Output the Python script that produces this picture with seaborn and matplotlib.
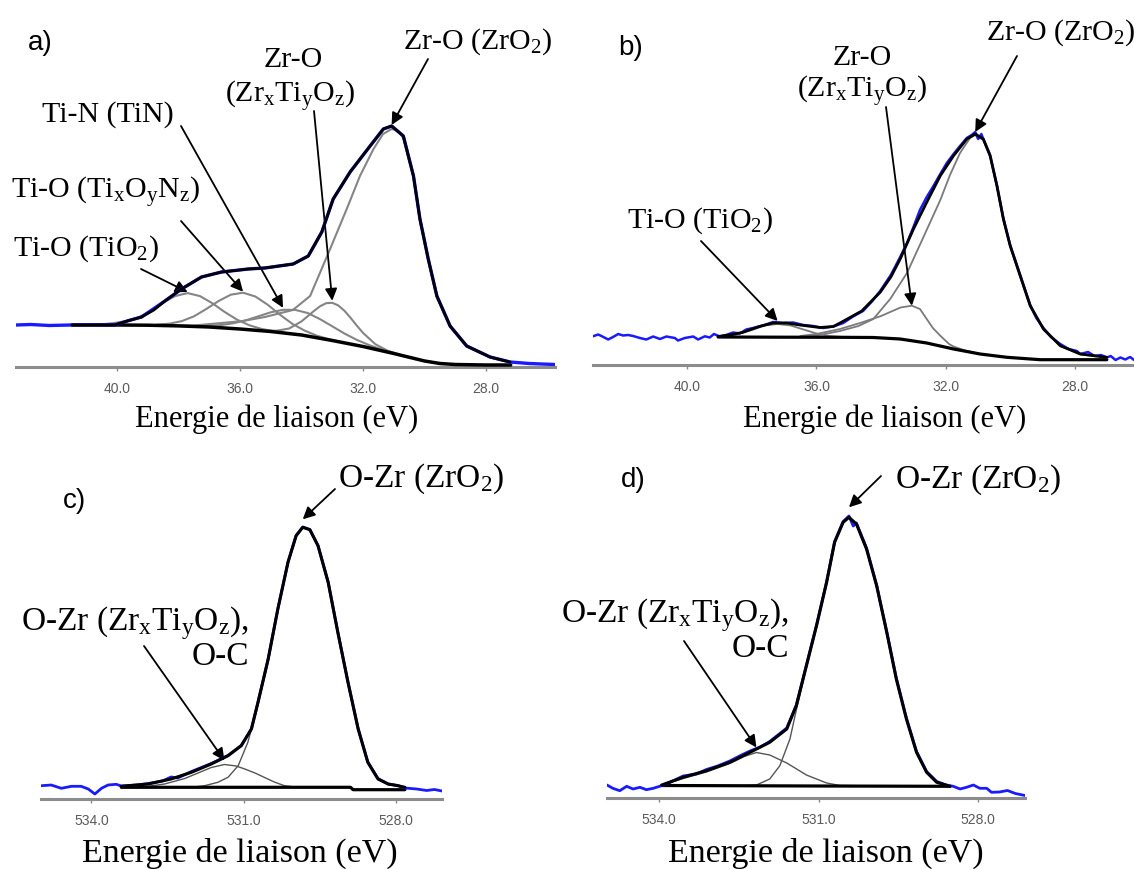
import numpy as np
import matplotlib
matplotlib.use("Agg")
import matplotlib.pyplot as plt
import seaborn as sns

# panel a : Zr 4p / Ti 3p region (eV, a.u.)
a_raw_e = [43.28, 42.8, 42.2, 41.5, 40.8, 40.07, 39.63, 39.20, 38.44, 37.90, 37.25, 36.60, 35.73, 35.19, 34.27,
           33.78, 33.34, 32.97, 32.42, 31.77, 31.34, 31.07, 30.69, 30.36, 30.15, 29.88, 29.60, 29.17, 28.63, 27.87,
           27.22, 26.6, 26.2, 25.76]
a_raw_i = [42, 42.5, 41.5, 42, 42.3, 42, 46.3, 50, 66, 78, 90, 95, 98, 99, 103,
           111, 135, 168, 195, 221, 238, 241, 231, 191, 148, 108, 71, 41, 21, 10,
           5, 3.5, 3, 2.5]
a_fit_e = [41.46, 40.6, 40.07, 39.63, 39.20, 38.80, 38.44, 37.90, 37.25, 36.60, 35.73, 35.19, 34.27, 33.78, 33.34,
           32.97, 32.42, 31.77, 31.34, 31.07, 30.69, 30.36, 30.15, 29.88, 29.60, 29.17, 28.63, 27.87, 27.22]
a_fit_i = [42, 42, 42, 46.3, 50, 57, 66, 78, 90, 95, 98, 99, 103, 111, 135,
           168, 195, 221, 238, 241, 231, 191, 148, 108, 71, 41, 21, 10, 5]
a_bg_e = [41.46, 40.0, 39.0, 38.0, 37.0, 36.0, 35.0, 34.0, 33.0, 32.0, 31.0, 30.0, 29.5, 29.0, 28.0, 27.2]
a_bg_i = [42, 42, 41.8, 41.1, 40.0, 38.0, 35.5, 32.0, 26.5, 20.5, 13.5, 6.0, 3.5, 2.5, 2.0, 2.0]
a_tio2_e = [40.9, 40.5, 40.1, 39.7, 39.3, 38.9, 38.5, 38.1, 37.7, 37.3, 36.9, 36.5, 36.1, 35.7, 35.3, 34.9, 34.5]
a_tio2_i = [42.2, 42.7, 43.9, 46.0, 49.5, 56.0, 64.5, 71.0, 73.9, 70.9, 63.8, 55.1, 47.4, 41.8, 38.1, 35.8, 34.0]
a_tion_e = [38.7, 38.3, 37.9, 37.5, 37.1, 36.7, 36.3, 35.9, 35.5, 35.1, 34.7, 34.3, 33.9, 33.5, 33.1, 32.7]
a_tion_i = [42.3, 43.3, 45.8, 50.6, 57.9, 65.9, 72.3, 74.3, 70.5, 62.3, 52.3, 43.2, 36.4, 31.3, 27.8, 24.9]
a_tin_e = [37.4, 37.0, 36.6, 36.2, 35.8, 35.4, 35.0, 34.6, 34.2, 33.8, 33.4, 33.0, 32.6, 32.2, 31.8, 31.4, 31.0]
a_tin_i = [41.0, 41.3, 42.0, 43.8, 46.8, 50.7, 54.7, 57.2, 57.1, 54.0, 47.9, 40.7, 33.4, 27.1, 21.9, 17.6, 14.0]
a_zrtio_e = [35.2, 34.8, 34.4, 34.0, 33.6, 33.4, 33.2, 33.0, 32.8, 32.6, 32.4, 32.2, 32.0, 31.6, 31.2, 30.8]
a_zrtio_i = [36.3, 36.3, 38.5, 45.6, 55.9, 60.7, 63.8, 64.2, 61.5, 56.1, 49.0, 41.3, 34.1, 22.8, 16.3, 12.3]
a_zro2_e = [38.5, 37.5, 36.6, 35.9, 35.19, 34.28, 33.72, 33.07, 32.53, 32.1, 31.66, 31.35, 31.07, 30.85, 30.69,
            30.36, 30.15, 29.88, 29.60, 29.17, 28.63, 27.87, 27.22]
a_zro2_i = [41.8, 41.5, 44, 46, 50, 57, 71, 118, 158, 191, 218, 233, 238, 236, 229,
            190, 147, 107, 70, 40.5, 20.5, 9.5, 4.5]

# panel b
b_raw_e = [42.91, 42.75, 42.65, 42.44, 42.29, 42.13, 41.98, 41.82, 41.67, 41.46, 41.26, 41.05, 40.84, 40.64, 40.38,
           40.28, 40.07, 39.81, 39.66, 39.45, 39.30, 39.17, 38.99, 38.79, 38.58, 38.37, 38.17, 37.96, 37.65, 37.34,
           37.03, 36.72, 36.41, 36.10, 35.79, 35.48, 35.17, 34.87, 34.56, 34.3, 34.03, 33.7, 33.41, 33.2, 33.0,
           32.8, 32.59, 32.4, 32.17, 31.97, 31.76, 31.56, 31.35, 31.2, 31.09, 31.0, 30.9, 30.84, 30.63, 30.42,
           30.22, 30.01, 29.70, 29.39, 29.2, 28.98, 28.75, 28.46, 28.2, 27.95, 27.84, 27.6, 27.4, 27.2, 27.02,
           26.9, 26.75, 26.6, 26.45, 26.3, 26.18]
b_raw_i = [28.7, 30.5, 29.0, 25.5, 28.0, 31.0, 29.5, 30.0, 29.0, 27.0, 25.5, 28.5, 26.0, 28.5, 27.0,
           24.5, 27.0, 28.5, 25.5, 28.7, 27.5, 31.0, 28.5, 30.0, 32.5, 31.5, 35.5, 37.0, 39.5, 43.0,
           42.0, 42.5, 40.0, 39.0, 37.0, 38.5, 42.0, 48.5, 54.0, 63, 74, 90, 108, 122, 138,
           155, 168, 178, 191, 202, 211, 219, 227, 230, 233, 226, 231, 226, 210, 180,
           147, 120, 90, 60, 47, 37, 28, 21, 16, 14, 11, 13, 9, 10, 7.5,
           9, 5, 7.5, 5.5, 8, 5]
b_fit_e = [39.04, 38.6, 38.27, 37.75, 37.34, 36.93, 36.51, 35.9, 35.48, 35.27, 34.6, 34.03, 33.7, 33.41, 33.0,
           32.59, 32.17, 31.76, 31.35, 31.09, 30.84, 30.63, 30.42, 30.22, 30.01, 29.70, 29.39, 28.98, 28.46, 27.84,
           27.02]
b_fit_i = [28.5, 30.5, 32.7, 38.7, 42, 42, 40, 37.5, 38.5, 42, 54, 72.7, 88, 106, 136,
           162.7, 189.3, 209.3, 226, 231, 226, 209.3, 179.3, 146, 119.3, 89.3, 59.3, 36, 19.3, 11,
           7.7]
b_bg_e = [39.04, 37.0, 35.27, 34.24, 33.41, 32.59, 31.76, 30.94, 30.11, 29.08, 27.02]
b_bg_i = [28, 27.8, 27.7, 27.5, 26, 22, 16, 11, 7.7, 5.3, 5.3]
b_tio2_e = [39.0, 38.5, 38.0, 37.6, 37.2, 36.8, 36.4, 36.0, 35.6, 35.2, 34.8]
b_tio2_i = [28.5, 30.5, 35, 39.5, 41, 39.5, 35.5, 31.5, 29, 28, 27.7]
b_zrtio_e = [36.5, 36.0, 35.27, 34.65, 34.0, 33.72, 33.4, 33.05, 32.8, 32.59, 32.4, 32.17, 31.9, 31.76, 31.4, 31.0]
b_zrtio_i = [29, 31, 36, 42, 49, 53, 57.5, 59.3, 56, 46, 37, 29.3, 21, 18.5, 14.5, 11.5]
b_zro2_e = [36.5, 35.9, 35.27, 34.7, 34.24, 33.72, 33.2, 32.69, 32.17, 31.87, 31.56, 31.25, 31.09, 30.84, 30.63,
            30.42, 30.22, 30.01, 29.70, 29.39, 28.98, 28.46, 27.84, 27.02]
b_zro2_i = [28, 30, 34, 39, 46, 66, 92, 128, 165, 190, 212, 227, 230, 225, 208.5,
            178.5, 145, 118.5, 88.5, 58.5, 35.5, 19, 10.5, 7.5]

# panel c : O 1s
c_raw_e = [534.98, 534.79, 534.59, 534.39, 534.2, 534.06, 533.93, 533.8, 533.67, 533.51, 533.41, 533.1, 532.88, 532.6,
           532.43, 532.3, 532.03, 531.64, 531.31, 531.05, 530.85, 530.72, 530.52, 530.33, 530.13, 529.97, 529.84,
           529.70, 529.54, 529.34, 529.15, 528.95, 528.75, 528.56, 528.36, 528.16, 527.97, 527.83, 527.6, 527.4,
           527.25, 527.1]
c_raw_i = [13.3, 14, 10.7, 12.7, 12.7, 10, 5, 10.7, 14, 14.7, 13, 14, 15.5, 18,
           22, 21, 27.5, 35.5, 43.5, 53.5, 70, 97, 140, 190, 237, 263.5, 272,
           269.5, 253.5, 217, 167, 117, 70.5, 37, 20.5, 15, 13.5, 11, 10, 8.5,
           9.5, 8]
c_fit_e = [533.41, 532.88, 532.43, 532.03, 531.64, 531.31, 531.05, 530.85, 530.72, 530.52, 530.33, 530.13, 529.97,
           529.84, 529.70, 529.54, 529.34, 529.15, 528.95, 528.75, 528.56, 528.36, 528.16, 527.97, 527.83]
c_fit_i = [12.7, 15, 20, 26.7, 35, 43.3, 53.3, 70, 96.7, 140, 190, 236.7, 263.3,
           271.7, 269.3, 253.3, 216.7, 166.7, 116.7, 70, 36.7, 20, 15, 13.3, 11.7]
c_bg_e = [533.41, 528.9, 528.85, 527.83]
c_bg_i = [11.7, 11.7, 9.3, 9.3]
c_zro2_e = [532.4, 532.2, 531.97, 531.77, 531.51, 531.31, 531.11, 530.92, 530.75, 530.52, 530.33, 530.13, 529.97,
            529.84, 529.70, 529.54, 529.34, 529.15, 528.95, 528.75, 528.56, 528.36, 528.16, 527.97, 527.83]
c_zro2_i = [11.7, 11.8, 12, 13.3, 16.7, 21.7, 33.3, 56.7, 89, 138, 189, 236, 263,
            271.5, 269, 253, 216.5, 166.5, 116.5, 70, 36.5, 20, 15, 13, 11.7]
c_oc_e = [533.2, 532.88, 532.56, 532.16, 531.9, 531.64, 531.38, 531.15, 530.98, 530.78, 530.59, 530.4, 530.2, 530.0, 529.7]
c_oc_i = [11.7, 12.7, 15, 20.5, 26, 31.5, 34.5, 33, 30, 26, 21.5, 17, 13.3, 12, 11.7]

# panel d : O 1s
d_raw_e = [534.98, 534.87, 534.74, 534.61, 534.49, 534.36, 534.24, 534.11, 533.99, 533.8, 533.55, 533.3, 533.11, 532.9,
           532.67, 532.45, 532.29, 532.1, 531.92, 531.60, 531.42, 531.23, 531.04, 530.85, 530.70, 530.54, 530.43,
           530.35, 530.29, 530.10, 529.91, 529.72, 529.54, 529.35, 529.16, 528.97, 528.78, 528.6, 528.47, 528.34,
           528.22, 528.09, 527.97, 527.84, 527.75, 527.6, 527.45, 527.3, 527.12]
d_raw_i = [13, 9.7, 7.3, 11.7, 9, 10.7, 8.3, 9.7, 11.7, 15.5, 22, 24, 28.5, 32,
           37, 43, 47, 51, 56.5, 70, 93, 133, 173, 216.5, 256.5, 276.5, 282,
           272, 275, 250, 213, 166.5, 120, 80, 46.5, 26.5, 16.5, 13, 11.7, 9,
           10.7, 13, 9.7, 9.7, 5.7, 6, 7.5, 4.5, 2.5]
d_fit_e = [533.95, 533.55, 533.11, 532.67, 532.29, 531.92, 531.60, 531.42, 531.23, 531.04, 530.85, 530.70, 530.54,
           530.43, 530.29, 530.10, 529.91, 529.72, 529.54, 529.35, 529.16, 528.97, 528.78, 528.53]
d_fit_i = [13, 20.7, 27.3, 35.7, 45.7, 55.7, 69, 92.3, 132.3, 172.3, 215.7, 255.7, 275.7,
           280.7, 274, 249, 212.3, 165.7, 119, 79, 45.7, 25.7, 15.7, 11.7]
d_bg_e = [533.95, 531.0, 528.53]
d_bg_i = [12.5, 12.0, 11.7]
d_zro2_e = [532.4, 532.17, 531.92, 531.73, 531.54, 531.42, 531.23, 531.04, 530.85, 530.70, 530.54, 530.43, 530.29,
            530.10, 529.91, 529.72, 529.54, 529.35, 529.16, 528.97, 528.78, 528.53]
d_zro2_i = [12.3, 13, 19, 32.3, 59, 88, 131, 171.5, 215, 255, 275, 280, 273.5,
            248.5, 212, 165.5, 118.5, 78.5, 45.5, 25.5, 15.5, 11.7]
d_oc_e = [533.95, 533.55, 533.11, 532.67, 532.4, 532.17, 531.92, 531.6, 531.23, 530.85, 530.6, 530.3]
d_oc_i = [12.8, 19.5, 26, 34.5, 41.5, 45.5, 43, 35, 23, 15, 12.5, 12.3]

ticks_zr = [40, 36, 32, 28]
ticks_o = [534, 531, 528]
xlabel = "Energie de liaison (eV)"
zrtio = r"(Zr$_\mathrm{x}$Ti$_\mathrm{y}$O$_\mathrm{z}$)"

W, H = 1134, 870
BLUE = "#1a1aff"

sns.set_theme(style="white")
plt.rcParams["font.family"] = ["Liberation Serif", "DejaVu Serif"]
plt.rcParams["mathtext.fontset"] = "custom"
plt.rcParams["mathtext.rm"] = "Liberation Serif"
plt.rcParams["mathtext.it"] = "Liberation Serif:italic"

fig = plt.figure(figsize=(W / 100, H / 100), dpi=100)
fig.patch.set_facecolor("white")


def fpos(x, y):
    return (x / W, 1 - y / H)


def panel(x0, x1, y_axis, y_top, xlim, ticks, fmt):
    ax = fig.add_axes([x0 / W, 1 - y_axis / H, (x1 - x0) / W, (y_axis - y_top) / H])
    ax.set_facecolor("none")
    ax.set_xlim(*xlim)
    ax.set_ylim(0, y_axis - y_top)
    for s in ["left", "right", "top"]:
        ax.spines[s].set_visible(False)
    ax.spines["bottom"].set_color("#8c8c8c")
    ax.spines["bottom"].set_linewidth(2.2)
    ax.set_yticks([])
    ax.set_xticks(ticks)
    ax.set_xticklabels([fmt.format(t) for t in ticks], family="Liberation Sans")
    ax.tick_params(axis="x", bottom=True, direction="out", length=3, width=1, color="#888888",
                   labelsize=10, labelcolor="#5a5a5a", pad=7)
    ax.grid(False)
    return ax


def draw(ax, e, i, color, lw, z):
    sns.lineplot(x=e, y=i, ax=ax, color=color, linewidth=lw, sort=False, estimator=None, zorder=z)


def arrow(ax, tip, tail):
    ax.annotate("", xy=tip, xycoords="data", xytext=fpos(*tail), textcoords="figure fraction",
                annotation_clip=False,
                arrowprops=dict(arrowstyle="-|>", color="black", lw=1.3, mutation_scale=18,
                                shrinkA=0, shrinkB=0))


def peak(e, i, dy=0):
    k = int(np.argmax(i))
    return (e[k], i[k] + dy)


def label(x, y, s, size, ha="left", family=None):
    kw = {} if family is None else {"family": family}
    fig.text(*fpos(x, y), s, fontsize=size, ha=ha, va="baseline", color="black", **kw)


# a)
ax = panel(16, 555, 368, 100, (43.28, 25.76), ticks_zr, "{:.1f}")
for e, i in [(a_tio2_e, a_tio2_i), (a_tion_e, a_tion_i), (a_tin_e, a_tin_i), (a_zrtio_e, a_zrtio_i), (a_zro2_e, a_zro2_i)]:
    draw(ax, e, i, "#858585", 1.5, 2)
draw(ax, a_bg_e, a_bg_i, "black", 2.5, 3)
draw(ax, a_raw_e, a_raw_i, BLUE, 2.4, 4)
draw(ax, a_fit_e, a_fit_i, "black", 2.0, 5)
arrow(ax, peak(a_fit_e, a_fit_i, 1), (428, 60))
arrow(ax, peak(a_zrtio_e, a_zrtio_i, 2), (314, 112))
arrow(ax, peak(a_tin_e, a_tin_i, 2), (181, 127))
arrow(ax, peak(a_tion_e, a_tion_i, 1), (181, 222))
arrow(ax, peak(a_tio2_e, a_tio2_i, 1), (141, 270))
label(28, 50, "a)", 20, family="Liberation Sans")
label(403, 49, r"Zr-O (ZrO$_2$)", 21.5)
label(293, 67, "Zr-O", 21.5, ha="center")
label(290, 103, zrtio, 21.5, ha="center")
label(42, 122, "Ti-N (TiN)", 21.5)
label(11, 199, r"Ti-O (Ti$_\mathrm{x}$O$_\mathrm{y}$N$_\mathrm{z}$)", 21.5)
label(13, 256, r"Ti-O (TiO$_2$)", 21.5)
label(277, 427, xlabel, 22, ha="center")

# b)
ax = panel(593, 1134, 366, 100, (42.91, 26.18), ticks_zr, "{:.1f}")
for e, i in [(b_tio2_e, b_tio2_i), (b_zrtio_e, b_zrtio_i), (b_zro2_e, b_zro2_i)]:
    draw(ax, e, i, "#7a7a7a", 1.3, 2)
draw(ax, b_bg_e, b_bg_i, "black", 2.3, 3)
draw(ax, b_raw_e, b_raw_i, BLUE, 1.8, 4)
draw(ax, b_fit_e, b_fit_i, "black", 2.0, 5)
arrow(ax, peak(b_fit_e, b_fit_i, 2), (1017, 57))
arrow(ax, peak(b_zrtio_e, b_zrtio_i, 0), (886, 108))
arrow(ax, peak(b_tio2_e, b_tio2_i, 3), (701, 242))
label(618, 55, "b)", 20, family="Liberation Sans")
label(986, 40, r"Zr-O (ZrO$_2$)", 21.5)
label(862, 65, "Zr-O", 21.5, ha="center")
label(862, 98, zrtio, 21.5, ha="center")
label(627, 228, r"Ti-O (TiO$_2$)", 21.5)
label(885, 427, xlabel, 22, ha="center")

# c)
ax = panel(41, 442, 800, 500, (534.99, 527.10), ticks_o, "{:.1f}")
for e, i in [(c_oc_e, c_oc_i), (c_zro2_e, c_zro2_i)]:
    draw(ax, e, i, "#555555", 1.0, 2)
draw(ax, c_bg_e, c_bg_i, "black", 2.3, 3)
draw(ax, c_raw_e, c_raw_i, BLUE, 2.0, 4)
draw(ax, c_fit_e, c_fit_i, "black", 2.2, 5)
arrow(ax, peak(c_fit_e, c_fit_i, 8), (335, 490))
arrow(ax, peak(c_oc_e, c_oc_i, 4), (144, 647))
label(63, 508, "c)", 20, family="Liberation Sans")
label(338, 487, r"O-Zr (ZrO$_2$)", 24)
label(249, 630, "O-Zr " + zrtio + ",", 24, ha="right")
label(249, 665, "O-C", 24, ha="right")
label(240, 862, xlabel, 24.5, ha="center")

# d)
ax = panel(607, 1025, 799, 500, (534.98, 527.12), ticks_o, "{:.1f}")
for e, i in [(d_oc_e, d_oc_i), (d_zro2_e, d_zro2_i)]:
    draw(ax, e, i, "#555555", 1.0, 2)
draw(ax, d_bg_e, d_bg_i, "black", 2.3, 3)
draw(ax, d_raw_e, d_raw_i, BLUE, 2.0, 4)
draw(ax, d_fit_e, d_fit_i, "black", 2.2, 5)
arrow(ax, peak(d_fit_e, d_fit_i, 10), (881, 477))
arrow(ax, peak(d_oc_e, d_oc_i, 5), (684, 642))
label(621, 487, "d)", 20, family="Liberation Sans")
label(895, 488, r"O-Zr (ZrO$_2$)", 24)
label(789, 622, "O-Zr " + zrtio + ",", 24, ha="right")
label(789, 657, "O-C", 24, ha="right")
label(826, 862, xlabel, 24.5, ha="center")

fig.savefig("out.png", dpi=100)
